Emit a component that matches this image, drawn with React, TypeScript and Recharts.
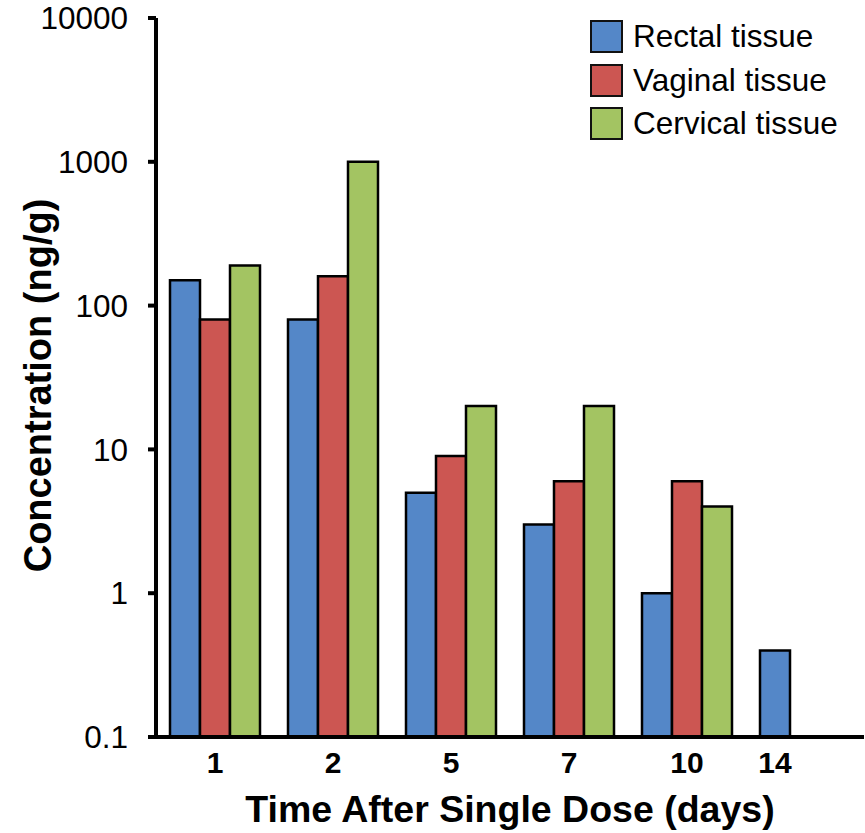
import { Bar, BarChart, Label, Legend, XAxis, YAxis } from "recharts";

const days = ["1", "2", "5", "7", "10", "14"];
const rectal = [150, 80, 5, 3, 1, 0.4];
const vaginal = [80, 160, 9, 6, 6, null];
const cervical = [190, 1000, 20, 20, 4, null];
const yTicks = [0.1, 1, 10, 100, 1000, 10000];

const FONT = "'Liberation Sans', Arial, sans-serif";

const seriesList = [
  { key: "rectal", name: "Rectal tissue", color: "#5487c8" },
  { key: "vaginal", name: "Vaginal tissue", color: "#cc5652" },
  { key: "cervical", name: "Cervical tissue", color: "#a3c462" },
];

const data = days.map((day, i) => ({
  day,
  rectal: rectal[i],
  vaginal: vaginal[i],
  cervical: cervical[i],
}));

function DayTick(props: any) {
  const { x, y, payload } = props;
  // the last day has only one bar, so its label sits under that bar
  const shift = payload.value === "14" ? -30 : 0;
  return (
    <text
      x={x + shift}
      y={y}
      dy="0.71em"
      textAnchor="middle"
      fontFamily={FONT}
      fontSize={30}
      fontWeight="bold"
      fill="#000"
    >
      {payload.value}
    </text>
  );
}

function LegendBox() {
  return (
    <div style={{ fontFamily: FONT, fontSize: 31.5, color: "#000", textAlign: "left" }}>
      {seriesList.map((s) => (
        <div key={s.key} style={{ display: "flex", alignItems: "center", height: 43.5, whiteSpace: "nowrap" }}>
          <span
            style={{
              display: "inline-block",
              width: 29,
              height: 29,
              background: s.color,
              border: "2px solid #111",
              marginRight: 10,
            }}
          />
          <span>{s.name}</span>
        </div>
      ))}
    </div>
  );
}

export default function App() {
  return (
    <div style={{ position: "absolute", left: 0, top: 0, background: "#fff" }}>
      <BarChart
        width={865}
        height={833}
        data={data}
        margin={{ top: 18, right: 1, bottom: 0, left: 0 }}
        barCategoryGap={14}
        barGap={0}
      >
        <XAxis
          dataKey="day"
          height={96}
          tickLine={false}
          tickSize={0}
          tickMargin={15}
          tick={<DayTick />}
          axisLine={{ stroke: "#000", strokeWidth: 4 }}
        >
          <Label
            value="Time After Single Dose (days)"
            position="insideBottom"
            offset={11}
            fontFamily={FONT}
            fontSize={37.5}
            fontWeight="bold"
            fill="#000"
          />
        </XAxis>
        <YAxis
          type="number"
          scale="log"
          domain={[0.1, 10000]}
          ticks={yTicks}
          allowDataOverflow
          width={156}
          tickSize={8}
          tickMargin={20}
          axisLine={{ stroke: "#000", strokeWidth: 4 }}
          tickLine={{ stroke: "#000", strokeWidth: 4 }}
          tick={{ fontFamily: FONT, fontSize: 31.5, fill: "#000" }}
        >
          <Label
            content={({ viewBox }: any) => {
              const cy = viewBox.y + viewBox.height / 2 + 8;
              return (
                <text
                  x={38}
                  y={cy}
                  transform={`rotate(-90, 38, ${cy})`}
                  textAnchor="middle"
                  dominantBaseline="central"
                  fontFamily={FONT}
                  fontSize={38}
                  fontWeight="bold"
                  fill="#000"
                >
                  Concentration (ng/g)
                </text>
              );
            }}
          />
        </YAxis>
        <Legend
          verticalAlign="middle"
          align="center"
          layout="vertical"
          content={<LegendBox />}
          wrapperStyle={{ top: 15, left: 590, width: 275 }}
        />
        {seriesList.map((s) => (
          <Bar
            key={s.key}
            dataKey={s.key}
            name={s.name}
            fill={s.color}
            stroke="#000"
            strokeWidth={2.5}
            isAnimationActive={false}
          />
        ))}
      </BarChart>
    </div>
  );
}
